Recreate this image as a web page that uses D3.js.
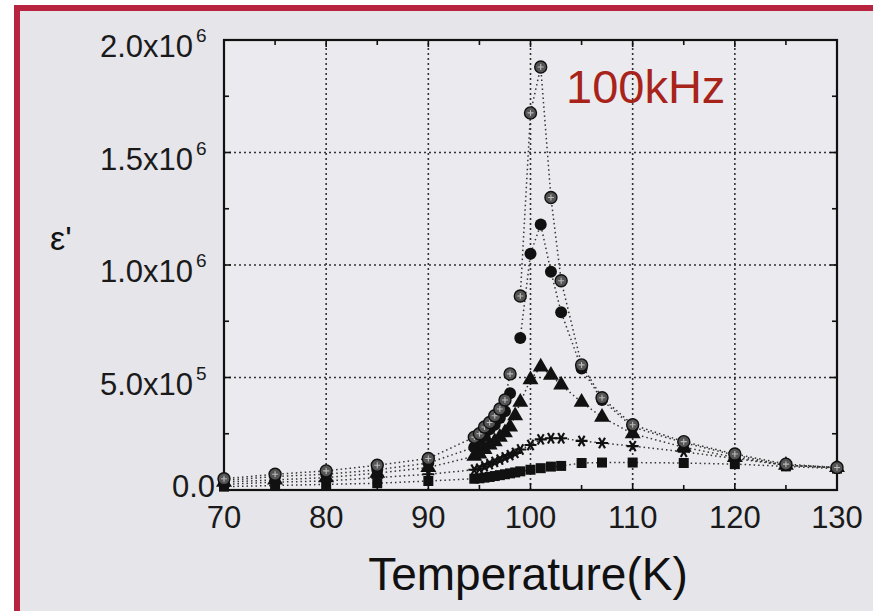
<!DOCTYPE html>
<html>
<head>
<meta charset="utf-8">
<script src="https://cdn.jsdelivr.net/npm/d3@7"></script>
<style>
  html,body{margin:0;padding:0;background:#fff;overflow:hidden;width:873px;height:611px;}
  svg{display:block;font-family:"Liberation Sans",Arial,Helvetica,sans-serif;}
</style>
</head>
<body>
<svg id="chart" width="873" height="611"></svg>
<script>
/* ε' vs temperature, 100 kHz */

const temps = [70,75,80,85,90,94.5,95,95.5,96,96.5,97,97.5,98,98.5,99,100,101,102,103,105,107,110,115,120,125,130];

// hatched circles
const serHatch  = [0.050,0.070,0.085,0.110,0.140,0.235,0.250,0.280,0.300,0.330,0.360,0.400,0.516,null,0.862,1.676,1.880,1.300,0.930,0.556,0.410,0.290,0.215,0.160,0.115,0.100];
// filled circles
const serCircle = [0.042,0.060,0.070,0.090,0.120,0.190,0.210,0.240,0.270,0.290,0.320,0.350,0.430,null,0.676,1.050,1.180,0.970,0.790,0.540,0.400,0.280,0.210,0.155,0.110,0.100];
// triangles
const serTri    = [0.035,0.045,0.055,0.075,0.100,0.150,0.160,0.180,0.200,0.215,0.235,0.255,0.280,0.330,0.390,0.490,0.547,0.510,0.467,0.390,0.324,0.250,0.190,0.145,0.110,0.100];
// asterisks
const serStar   = [0.025,0.035,0.040,0.055,0.070,0.090,0.095,0.105,0.115,0.125,0.135,0.145,0.155,0.165,0.180,0.200,0.225,0.230,0.230,0.218,0.209,0.195,0.170,0.140,0.110,0.098];
// squares
const serSquare = [0.015,0.020,0.025,0.030,0.040,0.050,0.052,0.055,0.058,0.062,0.066,0.070,0.074,0.078,0.083,0.090,0.097,0.104,0.107,0.120,0.122,0.122,0.120,0.115,0.105,0.095];

const xTicks = [70,80,90,100,110,120,130];
const yTicks = [0, 0.5e6, 1.0e6, 1.5e6, 2.0e6];
const yTickLabels = [["0.0",""],["5.0x10","5"],["1.0x10","6"],["1.5x10","6"],["2.0x10","6"]];

const svg = d3.select("#chart");

// page frame: crimson top & left edges only (the scan is cut off on the right and bottom)
svg.append("rect").attr("x",20).attr("y",11).attr("width",853).attr("height",600).attr("fill","#e5e5ea");
svg.append("rect").attr("x",14).attr("y",5).attr("width",859).attr("height",6).attr("fill","#b8233f");
svg.append("rect").attr("x",14).attr("y",5).attr("width",6).attr("height",606).attr("fill","#b8233f");

const x = d3.scaleLinear().domain([70,130]).range([224,837]);
const y = d3.scaleLinear().domain([0,2e6]).range([490,40]);

svg.append("rect").attr("x",x(70)).attr("y",y(2e6))
  .attr("width",x(130)-x(70)).attr("height",y(0)-y(2e6)).attr("fill","#ebebef");

// dotted grid
const grid = svg.append("g").attr("stroke","#333").attr("stroke-width",1.6)
  .attr("stroke-dasharray","2,3");
grid.selectAll("line.gx").data(xTicks.slice(1,-1)).join("line")
  .attr("x1",d=>x(d)).attr("x2",d=>x(d)).attr("y1",y(0)).attr("y2",y(2e6));
grid.selectAll("line.gy").data(yTicks.slice(1,-1)).join("line")
  .attr("x1",x(70)).attr("x2",x(130)).attr("y1",d=>y(d)).attr("y2",d=>y(d));

// ticks on all four sides, inward
function tickAxis(axis, scale, vals, len){
  const g = svg.append("g").attr("stroke","#111").attr("stroke-width",1.6);
  vals.forEach(v=>{
    if(axis==="x"){
      g.append("line").attr("x1",scale(v)).attr("x2",scale(v)).attr("y1",y(0)).attr("y2",y(0)-len);
      g.append("line").attr("x1",scale(v)).attr("x2",scale(v)).attr("y1",y(2e6)).attr("y2",y(2e6)+len);
    } else {
      g.append("line").attr("y1",scale(v)).attr("y2",scale(v)).attr("x1",x(70)).attr("x2",x(70)+len);
      g.append("line").attr("y1",scale(v)).attr("y2",scale(v)).attr("x1",x(130)).attr("x2",x(130)-len);
    }
  });
}
tickAxis("x", x, d3.range(70,131,10), 7);
tickAxis("x", x, d3.range(75,130,10), 5);
tickAxis("y", y, d3.range(0,2.01e6,0.5e6), 7);
tickAxis("y", y, d3.range(0.25e6,2e6,0.5e6), 5);

// frame
svg.append("rect").attr("x",x(70)).attr("y",y(2e6))
  .attr("width",x(130)-x(70)).attr("height",y(0)-y(2e6))
  .attr("fill","none").attr("stroke","#111").attr("stroke-width",2.2);

// tick labels
svg.append("g").selectAll("text").data(xTicks).join("text")
  .attr("x",d=>x(d)).attr("y",528).attr("text-anchor","middle")
  .attr("font-size",31).attr("fill","#1a1a1a").text(d=>d);

svg.append("g").selectAll("text").data(yTicks).join("text")
  .attr("x",d=>d===0?215:193).attr("y",d=>y(d)+(d===0?7:17)).attr("text-anchor","end")
  .attr("font-size",31).attr("fill","#1a1a1a")
  .text((d,i)=>yTickLabels[i][0]);
svg.append("g").selectAll("text").data(yTicks.slice(1)).join("text")
  .attr("x",196).attr("y",d=>y(d)+2).attr("font-size",19).attr("fill","#1a1a1a")
  .text((d,i)=>yTickLabels[i+1][1]);

// axis titles
svg.append("text").attr("x",528).attr("y",590).attr("text-anchor","middle")
  .attr("font-size",46).attr("fill","#111").text("Temperature(K)");
svg.append("text").attr("x",50).attr("y",250)
  .attr("font-size",34).attr("fill","#111").text("ε'");

svg.append("text").attr("x",566).attr("y",103)
  .attr("font-size",47).attr("fill","#a8231a").text("100kHz");

// series
const series = [
  {vals:serSquare, kind:"square"},
  {vals:serStar,   kind:"star"},
  {vals:serTri,    kind:"tri"},
  {vals:serCircle, kind:"circle"},
  {vals:serHatch,  kind:"hatch"}
];

const line = d3.line().defined(d=>d[1]!=null).x(d=>x(d[0])).y(d=>y(d[1]*1e6));
series.forEach(s=>{
  const pts = temps.map((t,i)=>[t, s.vals[i]]);
  svg.append("path").datum(pts).attr("d",line).attr("fill","none")
    .attr("stroke","#333").attr("stroke-width",1.5).attr("stroke-dasharray","1.5,3");
});

const triPath = d3.symbol(d3.symbolTriangle, 110)();
const sqPath = d3.symbol(d3.symbolSquare, 100)();
series.forEach(s=>{
  const pts = temps.map((t,i)=>[t, s.vals[i]]).filter(d=>d[1]!=null);
  const g = svg.append("g").selectAll("g").data(pts).join("g")
    .attr("transform",d=>`translate(${x(d[0])},${y(d[1]*1e6)})`);
  if(s.kind==="square"){
    g.append("path").attr("d",sqPath).attr("fill","#111");
  } else if(s.kind==="tri"){
    g.append("path").attr("d",triPath).attr("fill","#111");
  } else if(s.kind==="circle"){
    g.append("circle").attr("r",6).attr("fill","#111");
  } else if(s.kind==="star"){
    g.append("path").attr("d","M-6,0L6,0M-3,-5.2L3,5.2M-3,5.2L3,-5.2")
      .attr("stroke","#111").attr("stroke-width",2.2);
  } else {
    g.append("circle").attr("r",6).attr("fill","#555").attr("stroke","#111").attr("stroke-width",1.4);
    g.append("path").attr("d","M-3,0L3,0M0,-3L0,3").attr("stroke","#bbb").attr("stroke-width",1.1);
  }
});
</script>
</body>
</html>
